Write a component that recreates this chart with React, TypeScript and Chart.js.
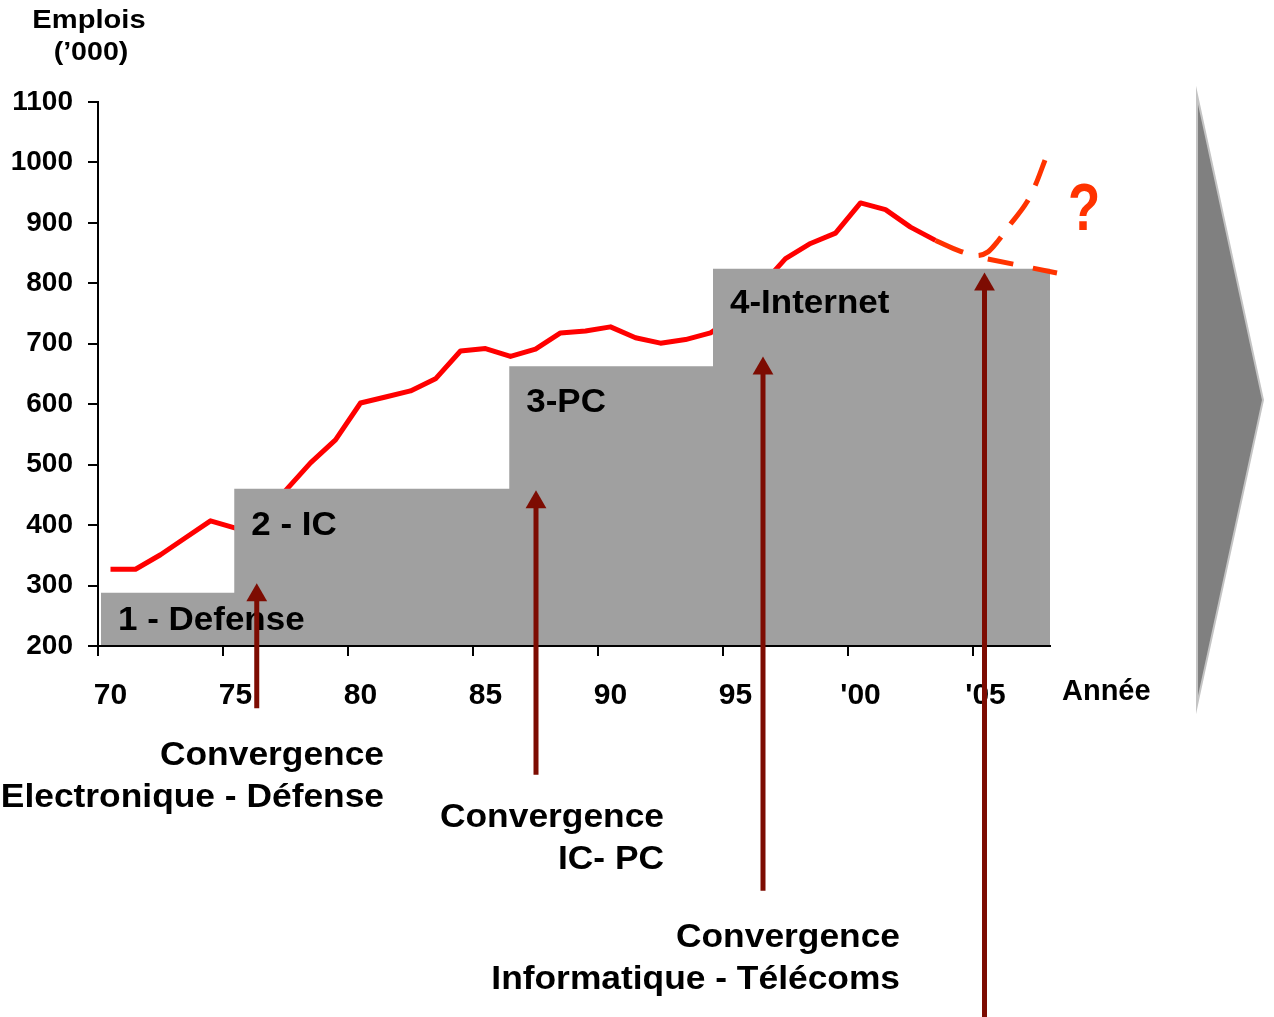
import React, { useEffect, useRef } from 'react';
import { Chart, registerables } from 'chart.js';

Chart.register(...registerables);

// ---- Data ----
const years = [
  1970, 1971, 1972, 1973, 1974, 1975, 1976, 1977, 1978, 1979,
  1980, 1981, 1982, 1983, 1984, 1985, 1986, 1987, 1988, 1989,
  1990, 1991, 1992, 1993, 1994, 1995, 1996, 1997, 1998, 1999,
  2000, 2001, 2002, 2003,
];
const emplois = [
  327, 327, 351, 379, 407, 395, 425, 457, 503, 541,
  602, 612, 622, 642, 688, 692, 679, 691, 718, 721,
  728, 710, 701, 707, 718, 745, 795, 841, 866, 883,
  933, 922, 893, 871,
];

const projHautYears = [2003, 2004, 2004.66, 2005.1, 2005.5, 2006.0, 2006.65, 2007.0, 2007.38];
const projHaut = [871, 853, 846, 852, 870, 898, 934, 963, 1004];
const projBasYears = [2004.66, 2007.86];
const projBas = [844, 817];

const phaseStart = [1969.62, 1974.95, 1985.95, 1994.1, 2007.64];
const phaseLevel = [288, 460, 663, 824, 824];
const phaseLabels = ['1 - Defense', '2 - IC', '3-PC', '4-Internet'];

const arrowYears = [1975.85, 1987.02, 1996.1, 2004.96];
const arrowTip = [284, 438, 659, 798];
const arrowBase = [97, -13, -205, -420];

const convergenceLabels = [
  ['Convergence', 'Electronique - Défense'],
  ['Convergence', 'IC- PC'],
  ['Convergence', 'Informatique - Télécoms'],
];

const tickYears = [1970, 1975, 1980, 1985, 1990, 1995, 2000, 2005];
const yMin = 200;
const yMax = 1100;
const yStep = 100;
const xMin = 1969.5;
const xMax = 2007.58;

const yTitle = ['Emplois', '(\u2019000)'];
const xTitle = 'Année';
const question = '?';

const FONT = '"Liberation Sans", Arial, Helvetica, sans-serif';
const RED = '#ff0000';
const ORANGE = '#ff3300';
const DARKRED = '#7d0c02';
const GRAY = '#a0a0a0';

function drawText(
  ctx: CanvasRenderingContext2D,
  text: string,
  x: number,
  y: number,
  size: number,
  align: CanvasTextAlign,
  sx = 1,
  color = '#000',
) {
  ctx.save();
  ctx.font = `bold ${size}px ${FONT}`;
  ctx.fillStyle = color;
  ctx.textBaseline = 'alphabetic';
  ctx.textAlign = align;
  ctx.translate(x, y);
  ctx.scale(sx, 1);
  ctx.fillText(text, 0, 0);
  ctx.restore();
}

const PHASE_INDEX = 1;

const annotationPlugin = {
  id: 'annotationPlugin',
  afterDatasetDraw(chart: any, args: any) {
    if (args.index !== PHASE_INDEX) return;
    const ctx = chart.ctx as CanvasRenderingContext2D;
    const xs = chart.scales.x;
    const ys = chart.scales.y;
    const dy = [37, 46, 46, 44];
    phaseLabels.forEach((t, i) => {
      const x = xs.getPixelForValue(phaseStart[i]) + 17;
      const y = ys.getPixelForValue(phaseLevel[i]) + dy[i];
      drawText(ctx, t, x, y, 33, 'left', 1.06);
    });
  },
  afterDraw(chart: any) {
    const ctx = chart.ctx as CanvasRenderingContext2D;
    // big grey chevron on the right
    ctx.save();
    ctx.beginPath();
    ctx.moveTo(1197, 95);
    ctx.lineTo(1263, 400);
    ctx.lineTo(1197, 705);
    ctx.closePath();
    ctx.fillStyle = '#808080';
    ctx.fill();
    ctx.lineWidth = 2;
    ctx.strokeStyle = '#c4c4c4';
    ctx.stroke();
    ctx.restore();

    // axis titles
    drawText(ctx, yTitle[0], 89, 28, 26, 'center', 1.12);
    drawText(ctx, yTitle[1], 91, 60, 26, 'center', 1.1);
    drawText(ctx, xTitle, 1062, 700, 29, 'left', 1);

    // question mark
    drawText(ctx, question, 1068, 230, 66, 'left', 0.8, ORANGE);

    // convergence captions
    const rights = [384, 664, 900];
    const base1 = [765, 827, 947];
    const gap = 42;
    convergenceLabels.forEach((lines, i) => {
      drawText(ctx, lines[0], rights[i], base1[i], 34, 'right', 1.04);
      drawText(ctx, lines[1], rights[i], base1[i] + gap, 34, 'right', 1.04);
    });
  },
};

export default function App() {
  const canvasRef = useRef<HTMLCanvasElement | null>(null);

  useEffect(() => {
    document.body.style.margin = '0';
    const canvas = canvasRef.current;
    if (!canvas) return;

    const arrowData: any[] = [];
    arrowYears.forEach((x, i) => {
      arrowData.push({ x, y: arrowBase[i] });
      arrowData.push({ x, y: arrowTip[i] });
      arrowData.push({ x, y: null });
    });

    const chart = new Chart(canvas, {
      type: 'line',
      data: {
        datasets: [
          {
            label: 'Emplois',
            data: years.map((x, i) => ({ x, y: emplois[i] })),
            borderColor: RED,
            borderWidth: 5,
            pointRadius: 0,
            tension: 0,
            fill: false,
            order: 10,
            borderJoinStyle: 'round',
          },
          {
            label: 'Phases',
            data: phaseStart.map((x, i) => ({ x, y: phaseLevel[i] })),
            stepped: true,
            borderWidth: 0,
            borderColor: 'rgba(0,0,0,0)',
            backgroundColor: GRAY,
            pointRadius: 0,
            fill: { value: 201.7 },
            clip: false,
            order: 9,
          },
          {
            label: 'Projection haute',
            data: projHautYears.map((x, i) => ({ x, y: projHaut[i] })),
            borderColor: ORANGE,
            borderWidth: 5,
            borderDash: [30, 16],
            pointRadius: 0,
            cubicInterpolationMode: 'monotone',
            fill: false,
            clip: false,
            order: 8,
          },
          {
            label: 'Projection basse',
            data: projBasYears.map((x, i) => ({ x, y: projBas[i] })),
            borderColor: ORANGE,
            borderWidth: 5,
            borderDash: [26, 20],
            borderDashOffset: 35,
            pointRadius: 0,
            fill: false,
            clip: false,
            order: 8,
          },
          {
            label: 'Convergences',
            data: arrowData,
            borderColor: DARKRED,
            backgroundColor: DARKRED,
            borderWidth: 5,
            borderCapStyle: 'butt',
            spanGaps: false,
            pointStyle: 'triangle',
            pointRadius: (c: any) => (c.dataIndex % 3 === 1 ? 12 : 0),
            pointBackgroundColor: DARKRED,
            pointBorderWidth: 0,
            fill: false,
            clip: false,
            order: 7,
          },
        ],
      },
      options: {
        responsive: false,
        animation: false,
        events: [],
        layout: { padding: { left: 0, top: 102, right: 224, bottom: 311 } },
        plugins: {
          legend: { display: false },
          tooltip: { enabled: false },
          title: { display: false },
        },
        scales: {
          x: {
            type: 'linear',
            min: xMin,
            max: xMax,
            afterBuildTicks: (scale: any) => {
              scale.ticks = tickYears.map((y) => ({ value: y - 0.5 }));
            },
            afterFit: (scale: any) => {
              scale.height = 60;
            },
            ticks: {
              autoSkip: false,
              maxRotation: 0,
              minRotation: 0,
              labelOffset: 12.5,
              padding: 22,
              color: '#000',
              font: { family: FONT, size: 30, weight: 'bold' },
              callback: (v: any) => {
                const yr = Math.round(Number(v) + 0.5);
                return yr >= 2000 ? "'" + String(yr - 2000).padStart(2, '0') : String(yr - 1900);
              },
            },
            grid: {
              display: true,
              drawOnChartArea: false,
              drawTicks: true,
              tickLength: 10,
              color: '#000',
              lineWidth: 2,
            },
            border: { display: true, color: '#000', width: 2 },
          },
          y: {
            type: 'linear',
            min: yMin,
            max: yMax,
            afterFit: (scale: any) => {
              scale.width = 98;
            },
            ticks: {
              stepSize: yStep,
              padding: 15,
              color: '#000',
              font: { family: FONT, size: 28, weight: 'bold' },
              callback: (v: any) => String(Math.round(Number(v))),
            },
            grid: {
              display: true,
              drawOnChartArea: false,
              drawTicks: true,
              tickLength: 10,
              color: '#000',
              lineWidth: 2,
            },
            border: { display: true, color: '#000', width: 2 },
          },
        },
      } as any,
      plugins: [annotationPlugin],
    });

    return () => {
      chart.destroy();
    };
  }, []);

  return (
    <div style={{ position: 'relative', width: 1274, height: 1017, background: '#fff' }}>
      <canvas ref={canvasRef} width={1274} height={1017} style={{ display: 'block' }} />
    </div>
  );
}
